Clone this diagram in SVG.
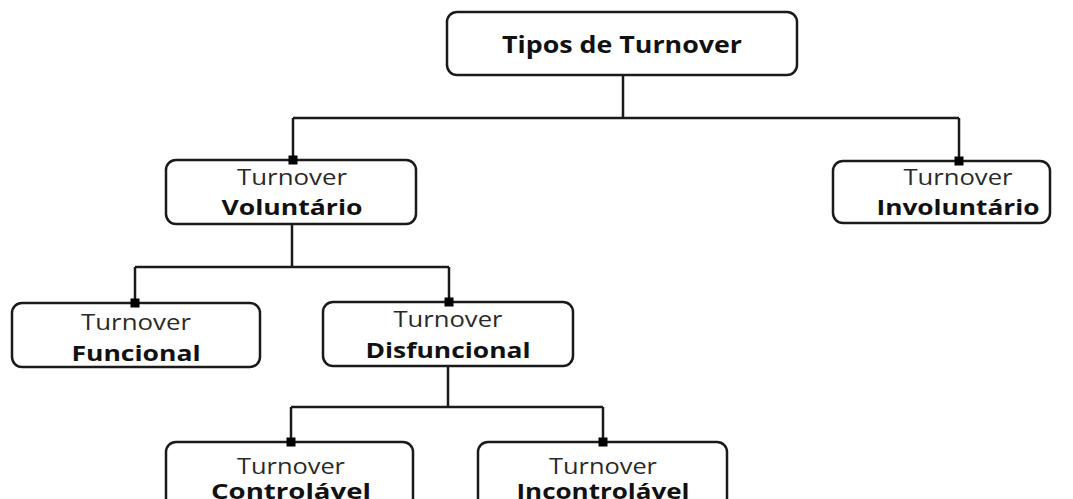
<svg xmlns="http://www.w3.org/2000/svg" width="1073" height="499" viewBox="0 0 1073 499">
<style>
.box{fill:#fff;stroke:#1a1a1a;stroke-width:2.5}
.ln{fill:none;stroke:#1a1a1a;stroke-width:2.5}
.dot{fill:#000}
.r{font-family:"Open Sans","DejaVu Sans",sans-serif;font-size:22px;fill:#2a2a2a;text-anchor:middle}
.b{font-family:"Open Sans","DejaVu Sans",sans-serif;font-size:22px;font-weight:bold;fill:#111;text-anchor:middle}
.t{font-family:"Open Sans","DejaVu Sans",sans-serif;font-size:23px;font-weight:bold;fill:#111;text-anchor:middle}
</style>
<rect width="1073" height="499" fill="#fff"/>
<g id="n-tipos">
<rect class="box" x="447" y="12" width="350" height="63" rx="10"/>
<text class="t" x="622" y="53" textLength="240" lengthAdjust="spacingAndGlyphs">Tipos de Turnover</text>
</g>
<g id="n-voluntario">
<rect class="box" x="166" y="160" width="250" height="64" rx="10"/>
<text class="r" x="292" y="185" textLength="110" lengthAdjust="spacingAndGlyphs">Turnover</text>
<text class="b" x="292" y="215" textLength="141" lengthAdjust="spacingAndGlyphs">Voluntário</text>
</g>
<g id="n-involuntario">
<rect class="box" x="833" y="161" width="217" height="62" rx="10"/>
<text class="r" x="958" y="185" textLength="109" lengthAdjust="spacingAndGlyphs">Turnover</text>
<text class="b" x="958" y="215" textLength="163" lengthAdjust="spacingAndGlyphs">Involuntário</text>
</g>
<g id="n-funcional">
<rect class="box" x="12" y="303" width="248" height="64" rx="10"/>
<text class="r" x="136" y="330" textLength="110" lengthAdjust="spacingAndGlyphs">Turnover</text>
<text class="b" x="136" y="361" textLength="129" lengthAdjust="spacingAndGlyphs">Funcional</text>
</g>
<g id="n-disfuncional">
<rect class="box" x="323" y="302" width="250" height="64" rx="10"/>
<text class="r" x="448" y="327" textLength="109" lengthAdjust="spacingAndGlyphs">Turnover</text>
<text class="b" x="448" y="358" textLength="165" lengthAdjust="spacingAndGlyphs">Disfuncional</text>
</g>
<g id="n-controlavel">
<rect class="box" x="166" y="442" width="247" height="80" rx="10"/>
<text class="r" x="291" y="474" textLength="108" lengthAdjust="spacingAndGlyphs">Turnover</text>
<text class="b" x="291" y="499" textLength="160" lengthAdjust="spacingAndGlyphs">Controlável</text>
</g>
<g id="n-incontrolavel">
<rect class="box" x="478" y="442" width="249" height="80" rx="10"/>
<text class="r" x="603" y="474" textLength="108" lengthAdjust="spacingAndGlyphs">Turnover</text>
<text class="b" x="603" y="499" textLength="173" lengthAdjust="spacingAndGlyphs">Incontrolável</text>
</g>
<g id="connectors">
<path class="ln" d="M623,76 V118 M293,118 H959 M293,118 V160 M959,118 V161"/>
<path class="ln" d="M292,224 V267 M135,267 H449 M135,267 V303 M449,267 V302"/>
<path class="ln" d="M448,366 V407 M291,407 H603 M291,407 V442 M603,407 V442"/>
<rect class="dot" x="288.5" y="155.5" width="9" height="9"/>
<rect class="dot" x="954.5" y="156.5" width="9" height="9"/>
<rect class="dot" x="130.5" y="298.5" width="9" height="9"/>
<rect class="dot" x="444.5" y="297.5" width="9" height="9"/>
<rect class="dot" x="286.5" y="437.5" width="9" height="9"/>
<rect class="dot" x="598.5" y="437.5" width="9" height="9"/>
</g>
</svg>
